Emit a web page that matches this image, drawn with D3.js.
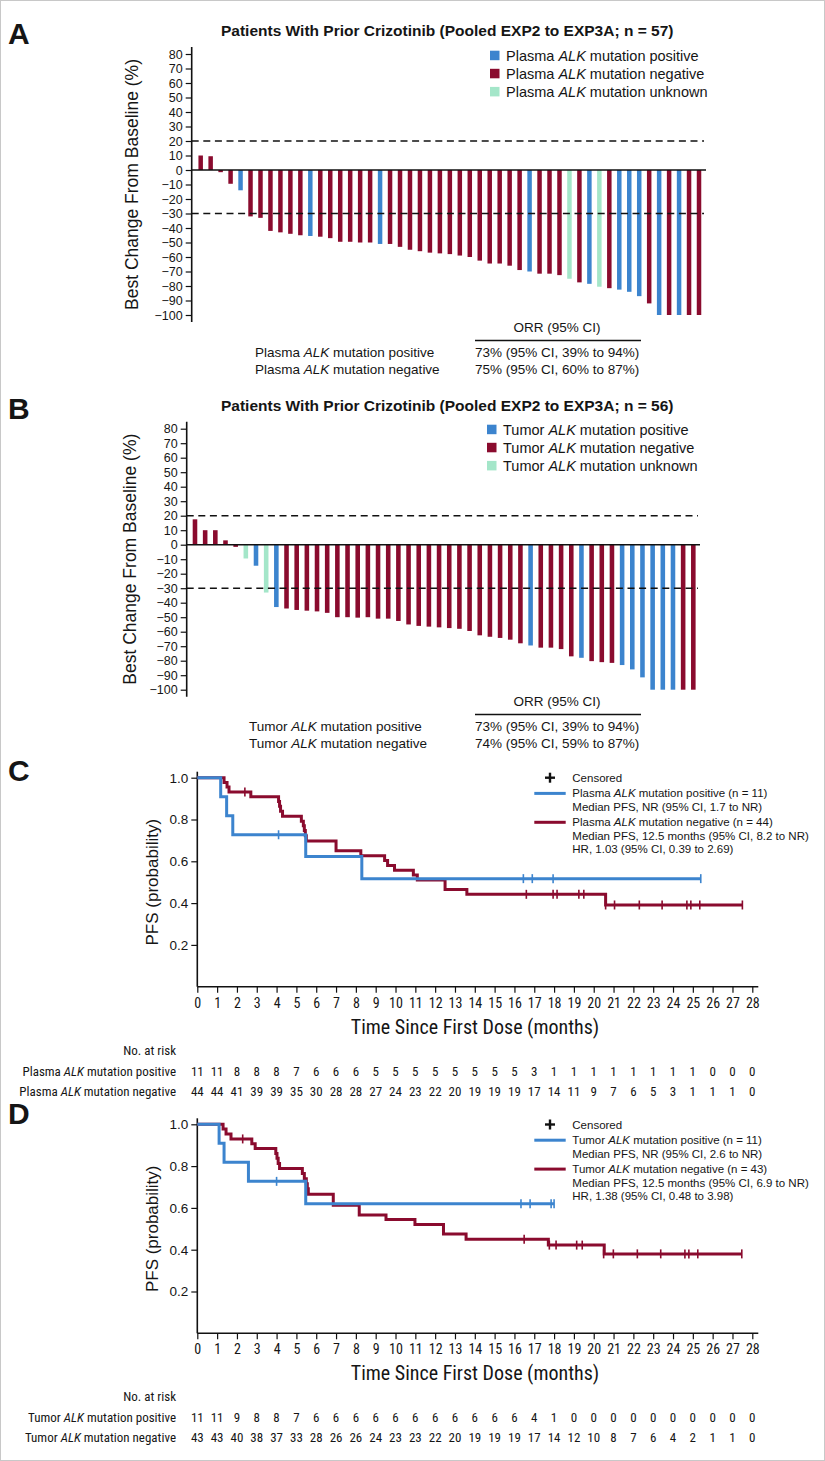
<!DOCTYPE html>
<html><head><meta charset="utf-8">
<script src="https://cdn.jsdelivr.net/npm/d3@7"></script>
<style>
body{margin:0;background:#fff;}
svg text{font-family:"Liberation Sans",Arial,Helvetica,sans-serif;fill:#151515;}
svg text.narrow{font-family:"Liberation Sans Narrow","Arial Narrow","Roboto Condensed","DejaVu Sans Condensed",sans-serif;}
</style></head>
<body><svg id="chart" width="825" height="1461"></svg>
<script>
// ---------------- DATA ----------------
const barTickValues = [-100,-90,-80,-70,-60,-50,-40,-30,-20,-10,0,10,20,30,40,50,60,70,80];
const refLines = [20, -30];

const plasmaValues = [10,9.5,-1.5,-9.5,-14,-32,-33,-42,-43,-44,-45,-45.5,-46,-47,-49.5,-49.5,-50,-50,-51,-51,
  -53,-55,-56,-57,-57.5,-58,-59,-60,-62.5,-64.5,-64.5,-66,-69,-70,-71.5,-71.5,-72.5,-75,-77.5,-78.5,
  -80.5,-81.5,-82.5,-84,-87,-92,-100,-100,-100,-100,-100];
const plasmaStatus = ["neg","neg","neg","neg","pos","neg","neg","neg","neg","neg","neg","pos","neg","neg","neg","neg","neg","neg","pos","neg",
  "neg","neg","neg","neg","neg","neg","neg","neg","neg","neg","neg","neg","neg","pos","neg","neg","neg","unk","neg","pos",
  "unk","neg","pos","pos","pos","neg","pos","neg","pos","neg","neg"];

const tumorValues = [17.5,10,10,3,-1.5,-9.5,-14.5,-33,-43,-44,-45,-45.5,-46,-47,-50,-50,-50.3,-50,-51,-51,
  -52.6,-55,-56,-56.5,-57,-57.5,-58,-59.5,-62.5,-63.5,-64.3,-65.5,-68,-69.5,-71,-71,-72,-77,-78,-80.3,
  -81,-81.5,-83,-86,-91.5,-100,-100,-100,-100,-100];
const tumorStatus = ["neg","neg","neg","neg","neg","unk","pos","unk","pos","neg","neg","neg","neg","neg","neg","neg","neg","neg","neg","neg",
  "neg","neg","neg","neg","neg","neg","neg","neg","neg","neg","neg","neg","neg","pos","neg","neg","neg","neg","pos","neg",
  "neg","neg","pos","pos","pos","pos","pos","pos","neg","neg"];

const kmXTicks = d3.range(0, 29);
const kmYTicks = [0.2, 0.4, 0.6, 0.8, 1.0];

// Kaplan-Meier step points [month, probability] and censor marks
const plasmaPosSteps = [[0,1],[1.18,0.909],[1.48,0.818],[1.79,0.727],[5.47,0.623],[8.3,0.517],[25.4,0.517]];
const plasmaPosCensor = [[4.1,0.727],[16.45,0.517],[16.9,0.517],[17.95,0.517],[25.4,0.517]];
const plasmaNegSteps = [[0,1],[1.35,0.977],[1.5,0.955],[1.6,0.932],[2.7,0.909],[4.1,0.886],[4.15,0.863],[4.2,0.84],[4.3,0.815],
  [5.25,0.792],[5.35,0.77],[5.4,0.747],[5.45,0.722],[5.5,0.697],[7.0,0.65],[8.25,0.627],[9.45,0.604],[9.6,0.58],[9.95,0.557],
  [10.9,0.534],[11.1,0.511],[12.5,0.465],[13.6,0.442],[20.6,0.391],[27.5,0.391]];
const plasmaNegCensor = [[2.4,0.932],[16.6,0.442],[17.95,0.442],[18.15,0.442],[19.25,0.442],[19.5,0.442],[20.6,0.391],[21.05,0.391],
  [22.3,0.391],[23.45,0.391],[24.7,0.391],[24.9,0.391],[25.35,0.391],[27.5,0.391]];

const tumorPosSteps = [[0,1],[1.1,0.909],[1.35,0.818],[2.58,0.727],[5.47,0.62],[18.0,0.62]];
const tumorPosCensor = [[4.0,0.727],[16.33,0.62],[16.79,0.62],[17.85,0.62],[18.0,0.62]];
const tumorNegSteps = [[0,1],[1.3,0.977],[1.45,0.953],[1.7,0.93],[2.75,0.907],[2.92,0.884],[3.96,0.86],[4.02,0.837],[4.08,0.813],
  [4.15,0.788],[5.3,0.764],[5.4,0.74],[5.5,0.716],[5.55,0.692],[5.6,0.665],[6.86,0.613],[8.17,0.566],[9.52,0.544],[10.98,0.52],
  [12.42,0.475],[13.56,0.45],[17.71,0.422],[20.53,0.38],[27.47,0.38]];
const tumorNegCensor = [[2.29,0.93],[16.49,0.45],[17.76,0.422],[18.1,0.422],[19.14,0.422],[19.42,0.422],[20.5,0.38],[20.99,0.38],
  [22.2,0.38],[23.38,0.38],[24.6,0.38],[24.8,0.38],[25.25,0.38],[27.47,0.38]];

const plasmaPosRisk = [11,11,8,8,8,7,6,6,6,5,5,5,5,5,5,5,5,3,1,1,1,1,1,1,1,1,0,0,0];
const plasmaNegRisk = [44,44,41,39,39,35,30,28,28,27,24,23,22,20,19,19,19,17,14,11,9,7,6,5,3,1,1,1,0];
const tumorPosRisk = [11,11,9,8,8,7,6,6,6,6,6,6,6,6,6,6,6,4,1,0,0,0,0,0,0,0,0,0,0];
const tumorNegRisk = [43,43,40,38,37,33,28,26,26,24,23,23,22,20,19,19,19,17,14,12,10,8,7,6,4,2,1,1,0];

const COL = {pos:"#3c84ce", neg:"#8a0b2e", unk:"#a4e6c9"};

// ---------------- HELPERS ----------------
const svg = d3.select("#chart");
svg.append("rect").attr("x",0.5).attr("y",0.5).attr("width",824).attr("height",1460)
  .attr("fill","#fff").attr("stroke","#c8c8c8").attr("stroke-width",1);

function addText(g, x, y, str, o = {}) {
  const t = g.append("text").attr("x", x).attr("y", y);
  if (o.size) t.style("font-size", o.size + "px");
  if (o.anchor) t.attr("text-anchor", o.anchor);
  if (o.weight) t.style("font-weight", o.weight);
  if (o.cls) t.attr("class", o.cls);
  if (o.transform) t.attr("transform", o.transform);
  str.split(/(ALK)/).forEach(p => {
    if (!p) return;
    const ts = t.append("tspan").text(p);
    if (p === "ALK") ts.style("font-style", "italic");
  });
  return t;
}

function waterfall(cfg) {
  const g = svg.append("g");
  const y = d3.scaleLinear().domain([-100, 80]).range([cfg.yBottom, cfg.yTop]);
  const x = d3.scaleBand().domain(d3.range(cfg.values.length))
    .range([cfg.x0, cfg.x1]).paddingInner(0.55).paddingOuter(0.275);
  const data = cfg.values.map((v, i) => ({v, s: cfg.status[i], i}));
  g.selectAll("rect.bar").data(data).join("rect").attr("class", "bar")
    .attr("x", d => x(d.i)).attr("width", x.bandwidth())
    .attr("y", d => y(Math.max(0, d.v)))
    .attr("height", d => Math.abs(y(d.v) - y(0)))
    .attr("fill", d => COL[d.s]);
  refLines.forEach(v => g.append("line")
    .attr("x1", cfg.axisX).attr("x2", cfg.lineEnd).attr("y1", y(v)).attr("y2", y(v))
    .attr("stroke", "#111").attr("stroke-width", 1.6).attr("stroke-dasharray", "7,4.6"));
  g.append("line").attr("x1", cfg.axisX).attr("x2", cfg.lineEnd + 2).attr("y1", y(0)).attr("y2", y(0))
    .attr("stroke", "#111").attr("stroke-width", 1.6);
  const ax = g.append("g").attr("transform", `translate(${cfg.axisX},0)`)
    .call(d3.axisLeft(y).tickValues(barTickValues).tickSize(6).tickPadding(3));
  ax.select(".domain").remove();
  ax.selectAll("line").attr("stroke", "#111").attr("stroke-width", 1.2);
  ax.selectAll("text").style("font-size", "12.5px").attr("fill", "#151515");
  g.append("line").attr("x1", cfg.axisX).attr("x2", cfg.axisX)
    .attr("y1", cfg.yTop - 7).attr("y2", cfg.yBottom + 7).attr("stroke", "#111").attr("stroke-width", 1.6);
  addText(g, 0, 0, "Best Change From Baseline (%)", {size: 17.5, anchor: "middle",
    transform: `translate(${cfg.titleX},${(cfg.yTop + cfg.yBottom) / 2}) rotate(-90)`});
  addText(g, 8, cfg.letterY, cfg.letter, {size: 30, weight: "bold"});
  addText(g, 221, cfg.titleY, cfg.title, {size: 15.5, weight: "bold"});
  const legRows = [["pos", cfg.prefix + " ALK mutation positive"], ["neg", cfg.prefix + " ALK mutation negative"],
    ["unk", cfg.prefix + " ALK mutation unknown"]];
  legRows.forEach((r, i) => {
    const cy = cfg.legY + i * 18.1;
    g.append("rect").attr("x", cfg.legX).attr("y", cy - 4.8).attr("width", 9.5).attr("height", 9.5).attr("fill", COL[r[0]]);
    addText(g, cfg.legX + 16, cy + 5, r[1], {size: 14.5});
  });
  addText(g, 557, cfg.orrY, "ORR (95% CI)", {size: 13.5, anchor: "middle"});
  g.append("line").attr("x1", 475).attr("x2", 641).attr("y1", cfg.orrY + 8.5).attr("y2", cfg.orrY + 8.5)
    .attr("stroke", "#111").attr("stroke-width", 1.5);
  cfg.orr.forEach((r, i) => {
    const yy = cfg.orrY + 25 + i * 17;
    addText(g, cfg.orrLabelX, yy, r[0], {size: 13.5});
    addText(g, 475, yy, r[1], {size: 13.5});
  });
}

function kmPanel(cfg) {
  const g = svg.append("g");
  const x = d3.scaleLinear().domain([0, 28]).range([197.3, 752.3]);
  const y = d3.scaleLinear().domain([0, 1]).range([cfg.y0, cfg.y1]);
  const line = d3.line().x(d => x(d[0])).y(d => y(d[1])).curve(d3.curveStepAfter);
  g.append("line").attr("x1", x(0)).attr("x2", x(0)).attr("y1", cfg.y1 - 6).attr("y2", cfg.y0)
    .attr("stroke", "#111").attr("stroke-width", 1.6);
  g.append("line").attr("x1", x(0)).attr("x2", x(28) + 6).attr("y1", cfg.y0).attr("y2", cfg.y0)
    .attr("stroke", "#111").attr("stroke-width", 1.6);
  const ay = g.append("g").attr("transform", `translate(${x(0)},0)`)
    .call(d3.axisLeft(y).tickValues(kmYTicks).tickFormat(d3.format(".1f")).tickSize(6).tickPadding(3));
  ay.select(".domain").remove();
  ay.selectAll("line").attr("stroke", "#111").attr("stroke-width", 1.2);
  ay.selectAll("text").style("font-size", "13.5px").attr("fill", "#151515");
  const axx = g.append("g").attr("transform", `translate(0,${cfg.y0})`)
    .call(d3.axisBottom(x).tickValues(kmXTicks).tickFormat(d3.format("d")).tickSize(6).tickPadding(5));
  axx.select(".domain").remove();
  axx.selectAll("line").attr("stroke", "#111").attr("stroke-width", 1.2);
  axx.selectAll("text").attr("class", "narrow").style("font-size", "14px").attr("fill", "#151515");
  addText(g, 475, cfg.y0 + 47, "Time Since First Dose (months)", {size: 20, anchor: "middle", cls: "narrow"});
  addText(g, 0, 0, "PFS (probability)", {size: 17, anchor: "middle",
    transform: `translate(158,${y(0.5)}) rotate(-90)`});
  [[cfg.negSteps, cfg.negCensor, COL.neg], [cfg.posSteps, cfg.posCensor, COL.pos]].forEach(([steps, cens, c]) => {
    g.append("path").datum(steps).attr("d", line).attr("fill", "none").attr("stroke", c).attr("stroke-width", 3);
    g.selectAll(null).data(cens).join("line")
      .attr("x1", d => x(d[0])).attr("x2", d => x(d[0]))
      .attr("y1", d => y(d[1]) - 4.5).attr("y2", d => y(d[1]) + 4.5)
      .attr("stroke", c).attr("stroke-width", 1.6);
  });
  addText(g, 8, cfg.letterY, cfg.letter, {size: 30, weight: "bold"});
  const ly = cfg.legY;
  g.append("line").attr("x1", 545).attr("x2", 555).attr("y1", ly).attr("y2", ly).attr("stroke", "#111").attr("stroke-width", 2.4);
  g.append("line").attr("x1", 550).attr("x2", 550).attr("y1", ly - 5).attr("y2", ly + 5).attr("stroke", "#111").attr("stroke-width", 2.4);
  addText(g, 572.3, ly + 4, "Censored", {size: 11.5});
  const rows = [[ly + 15.7, cfg.leg[0], COL.pos], [ly + 29, cfg.leg[1], null], [ly + 44.6, cfg.leg[2], COL.neg],
    [ly + 58.3, cfg.leg[3], null], [ly + 71.5, cfg.leg[4], null]];
  rows.forEach(([yy, s, c]) => {
    if (c) g.append("line").attr("x1", 534.3).attr("x2", 565.7).attr("y1", yy).attr("y2", yy).attr("stroke", c).attr("stroke-width", 3);
    addText(g, 572.3, yy + 4, s, {size: 11.5});
  });
  addText(g, 176, cfg.y0 + 68, "No. at risk", {size: 13, anchor: "end", cls: "narrow"});
  [[cfg.riskLabels[0], cfg.posRisk, 89], [cfg.riskLabels[1], cfg.negRisk, 109]].forEach(([lab, vals, dy]) => {
    addText(g, 176, cfg.y0 + dy, lab, {size: 13, anchor: "end", cls: "narrow"});
    g.selectAll(null).data(vals).join("text").attr("class", "narrow")
      .attr("x", (d, i) => x(kmXTicks[i])).attr("y", cfg.y0 + dy)
      .attr("text-anchor", "middle").style("font-size", "13px").text(d => d);
  });
}

// ---------------- DRAW ----------------
waterfall({values: plasmaValues, status: plasmaStatus, yTop: 54, yBottom: 315, axisX: 191.7,
  x0: 195.7, x1: 704, lineEnd: 704, titleX: 138, letter: "A", letterY: 44, titleY: 35.5,
  title: "Patients With Prior Crizotinib (Pooled EXP2 to EXP3A; n = 57)", prefix: "Plasma",
  legX: 490, legY: 55.5, orrY: 332, orrLabelX: 255,
  orr: [["Plasma ALK mutation positive", "73% (95% CI, 39% to 94%)"], ["Plasma ALK mutation negative", "75% (95% CI, 60% to 87%)"]]});

waterfall({values: tumorValues, status: tumorStatus, yTop: 428.7, yBottom: 689.7, axisX: 186.7,
  x0: 189.9, x1: 698.4, lineEnd: 698, titleX: 136, letter: "B", letterY: 418.7, titleY: 410.5,
  title: "Patients With Prior Crizotinib (Pooled EXP2 to EXP3A; n =  56)", prefix: "Tumor",
  legX: 487, legY: 429.5, orrY: 706, orrLabelX: 249,
  orr: [["Tumor ALK mutation positive", "73% (95% CI, 39% to 94%)"], ["Tumor ALK mutation negative", "74% (95% CI, 59% to 87%)"]]});

kmPanel({y0: 986.7, y1: 777.7, letter: "C", letterY: 781, legY: 777.7,
  posSteps: plasmaPosSteps, posCensor: plasmaPosCensor, negSteps: plasmaNegSteps, negCensor: plasmaNegCensor,
  leg: ["Plasma ALK mutation positive (n = 11)", "Median PFS, NR (95% CI, 1.7 to NR)",
    "Plasma ALK mutation negative (n = 44)", "Median PFS, 12.5 months (95% CI, 8.2 to NR)", "HR, 1.03 (95% CI, 0.39 to 2.69)"],
  riskLabels: ["Plasma ALK mutation positive", "Plasma ALK mutation negative"], posRisk: plasmaPosRisk, negRisk: plasmaNegRisk});

kmPanel({y0: 1333.3, y1: 1124.3, letter: "D", letterY: 1124, legY: 1124.5,
  posSteps: tumorPosSteps, posCensor: tumorPosCensor, negSteps: tumorNegSteps, negCensor: tumorNegCensor,
  leg: ["Tumor ALK mutation positive (n = 11)", "Median PFS, NR (95% CI, 2.6 to NR)",
    "Tumor ALK mutation negative (n = 43)", "Median PFS, 12.5 months (95% CI, 6.9 to NR)", "HR, 1.38 (95% CI, 0.48 to 3.98)"],
  riskLabels: ["Tumor ALK mutation positive", "Tumor ALK mutation negative"], posRisk: tumorPosRisk, negRisk: tumorNegRisk});
</script></body></html>
